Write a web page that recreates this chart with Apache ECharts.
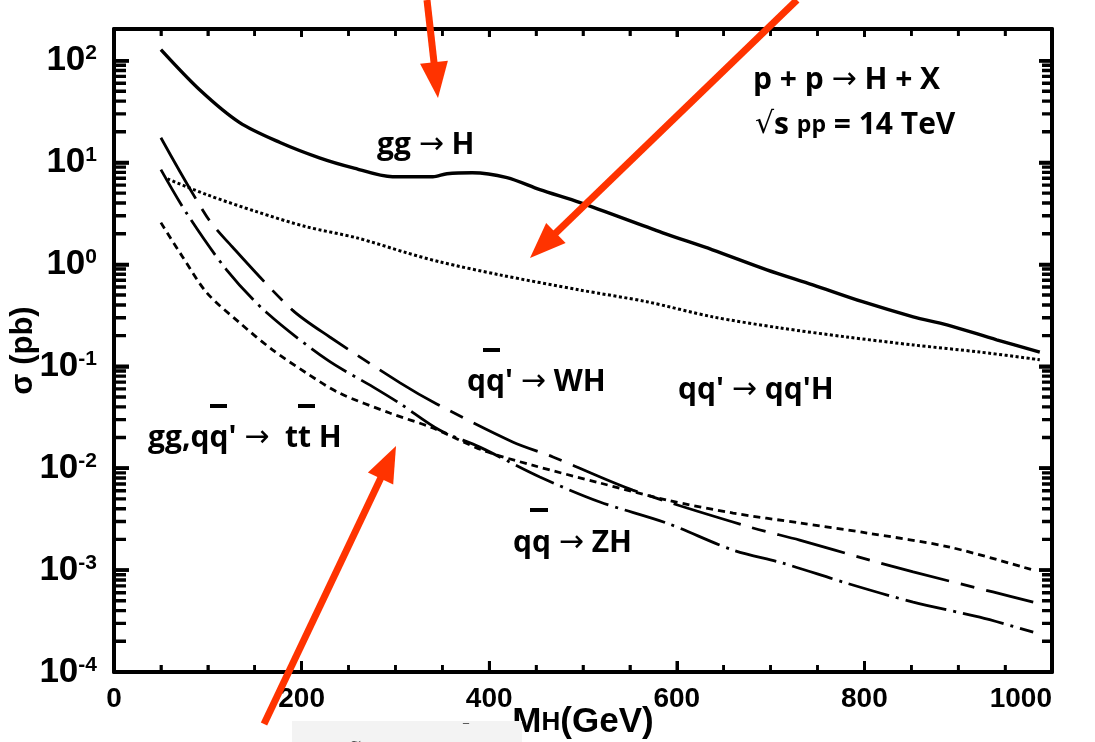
<!DOCTYPE html>
<html><head><meta charset="utf-8">
<script src="https://cdn.jsdelivr.net/npm/echarts@6/dist/echarts.min.js"></script>
<style>html,body{margin:0;padding:0;background:#fff}#c{width:1095px;height:742px}</style>
</head><body><div id="c"></div>
<script>
// ---- data ----
const ggH_mass = [50, 91, 134, 177, 219, 254, 297, 340, 355, 382, 419, 454, 497, 585, 638, 696, 745, 798, 852, 888, 941, 987];
const ggH_xsec = [128, 52, 24.6, 15.7, 11.1, 8.9, 7.25, 7.25, 7.76, 7.94, 7.1, 5.41, 4.03, 2.04, 1.39, 0.885, 0.63, 0.43, 0.306, 0.255, 0.182, 0.138];

const vbf_mass = [57, 99, 152, 205, 259, 312, 347, 411, 497, 568, 638, 710, 781, 852, 923, 987];
const vbf_xsec = [6.9, 4.83, 3.29, 2.34, 1.82, 1.30, 1.06, 0.79, 0.56, 0.43, 0.306, 0.238, 0.194, 0.162, 0.138, 0.116];

const wh_mass = [50, 99, 126, 190, 230, 305, 344, 425, 468, 553, 678, 731, 806, 852, 937, 980];
const wh_xsec = [17.5, 2.94, 1.49, 0.358, 0.194, 0.0688, 0.0427, 0.0181, 0.0129, 0.0061, 0.00264, 0.00197, 0.00125, 0.00096, 0.00061, 0.000485];

const zh_mass = [50, 77, 120, 163, 227, 276, 305, 347, 390, 454, 518, 589, 660, 713, 781, 852, 923, 980];
const zh_xsec = [8.5, 3.22, 0.885, 0.335, 0.116, 0.0628, 0.043, 0.0237, 0.0161, 0.0082, 0.00466, 0.0029, 0.00157, 0.00117, 0.000745, 0.000485, 0.000345, 0.000246];

const tth_mass = [50, 73, 99, 134, 169, 205, 240, 294, 340, 393, 446, 518, 589, 660, 731, 803, 891, 980];
const tth_xsec = [2.57, 1.19, 0.526, 0.267, 0.145, 0.0861, 0.0548, 0.0348, 0.0248, 0.0150, 0.0107, 0.00716, 0.00488, 0.00363, 0.0029, 0.00231, 0.00168, 0.001];

const xTickLabels = ['0', '200', '400', '600', '800', '1000'];
const xMajorStep = 200;
const xMinorStep = 50;
const yDecades = [-4, -3, -2, -1, 0, 1, 2];
const minorFactors = [2, 3, 4, 5, 6, 7, 8, 9];

// ---- chart ----
const AX = "'Liberation Sans', Arial, sans-serif";
const NARROW = "'Liberation Sans Narrow', 'Liberation Sans', sans-serif";
const ANN = "'Open Sans', 'Liberation Sans', sans-serif";
const ARR = "'DejaVu Sans', sans-serif";
const RED = '#ff3300';
const X_MIN = 0, X_MAX = 1000;
const yMin = Math.pow(10, yDecades[0]);
const yMax = Math.pow(10, 2.31);

function zip(a, b) { return a.map((x, i) => [x, b[i]]); }

const yMinorVals = [];
yDecades.slice(0, -1).forEach(e => minorFactors.forEach(k => yMinorVals.push(k * Math.pow(10, e))));
const yMajorVals = yDecades.map(e => Math.pow(10, e));
const xMinorVals = [], xMajorVals = [];
for (let x = X_MIN + xMinorStep; x < X_MAX; x += xMinorStep) (x % xMajorStep === 0 ? xMajorVals : xMinorVals).push(x);

const frameLine = { show: true, onZero: false, lineStyle: { color: '#000', width: 4 } };

const chart = echarts.init(document.getElementById('c'), null, { renderer: 'canvas' });

let gid = 0;
function withId(el) { el.id = 'g' + (gid++); return el; }

function arrow(x0, y0, x1, y1) {
  const dx = x1 - x0, dy = y1 - y0, L = Math.hypot(dx, dy);
  const ux = dx / L, uy = dy / L, hl = 36, hw = 14;
  const bx = x1 - ux * hl, by = y1 - uy * hl, px = -uy, py = ux;
  return [
    withId({ type: 'line', z: 100, shape: { x1: x0, y1: y0, x2: bx + ux * 3, y2: by + uy * 3 }, style: { stroke: RED, lineWidth: 7 } }),
    withId({ type: 'polygon', z: 100, shape: { points: [[x1, y1], [bx + px * hw, by + py * hw], [bx - px * hw, by - py * hw]] }, style: { fill: RED } })
  ];
}

function label(x, y, text, rich) {
  return withId({ type: 'text', z: 50, style: { x: x, y: y, text: text, rich: rich, verticalAlign: 'middle', align: 'left', fill: '#000' } });
}
const annRich = {
  b: { fontFamily: ANN, fontWeight: 'bold', fontSize: 30, color: '#000' },
  a: { fontFamily: ARR, fontWeight: 'normal', fontSize: 30, color: '#000' },
  s: { fontFamily: ANN, fontWeight: 'bold', fontSize: 23, color: '#000' },
  r: { fontFamily: ARR, fontWeight: 'normal', fontSize: 30, color: '#000' }
};
function bar(x, y, w) { return withId({ type: 'rect', z: 50, shape: { x: x, y: y, width: w, height: 4 }, style: { fill: '#000' } }); }

const graphics = [
  withId({ type: 'rect', z: 1, shape: { x: 292, y: 721, width: 230, height: 21 }, style: { fill: '#f3f3f3' } }),
  withId({ type: 'text', z: 2, style: { x: 350, y: 736, text: '~', font: '14px DejaVu Sans', fill: '#444' } }),
  withId({ type: 'text', z: 2, style: { x: 463, y: 724, text: '‾', font: '12px DejaVu Sans', fill: '#444' } }),
  label(377, 145, '{b|gg }{a|→}{b| H}', annRich),
  label(753, 80, '{b|p + p }{a|→}{b| H + X}', annRich),
  label(755, 125, '{r|√}{b|s }{s|pp}{b| = 14 TeV}', annRich),
  label(467, 382, "{b|qq' }{a|→}{b| WH}", annRich),
  bar(483, 348, 17),
  label(678, 390, "{b|qq' }{a|→}{b| qq'H}", annRich),
  label(148, 438, "{b|gg,qq' }{a|→}{b|  tt H}", annRich),
  bar(210, 404, 17), bar(298, 404, 17),
  label(513, 543, '{b|qq }{a|→}{b| ZH}', annRich),
  bar(530, 508, 18),
  ...arrow(427, 0, 438, 98),
  ...arrow(797, 0, 530, 258),
  ...arrow(264, 724, 396, 446)
];

const curveSeries = [
  { name: 'gg→H', type: 'line', data: zip(ggH_mass, ggH_xsec), symbol: 'none', smooth: 0.3,
    lineStyle: { color: '#000', width: 3.4 } },
  { name: "qq'→qq'H", type: 'line', data: zip(vbf_mass, vbf_xsec), symbol: 'none', smooth: 0.3,
    lineStyle: { color: '#000', width: 3, type: [3, 2.5] } },
  { name: "qq'→WH", type: 'line', data: zip(wh_mass, wh_xsec), symbol: 'none', smooth: 0.3,
    lineStyle: { color: '#000', width: 2.8, type: [70, 12, 14, 12] } },
  { name: 'qq→ZH', type: 'line', data: zip(zh_mass, zh_xsec), symbol: 'none', smooth: 0.3,
    lineStyle: { color: '#000', width: 2.8, type: [42, 7, 3, 7] } },
  { name: 'ttH', type: 'line', data: zip(tth_mass, tth_xsec), symbol: 'none', smooth: 0.3,
    lineStyle: { color: '#000', width: 2.8, type: [7, 5] } }
];

const option = {
  animation: false,
  backgroundColor: '#fff',
  grid: { left: 114, right: 43, top: 29, bottom: 70, containLabel: false, outerBoundsMode: 'none' },
  xAxis: [
    {
      type: 'value', min: X_MIN, max: X_MAX, interval: xMajorStep, position: 'bottom',
      axisLine: frameLine,
      axisTick: { show: true, inside: true, length: 11, lineStyle: { color: '#000', width: 3 } },
      minorTick: { show: true, splitNumber: 4, length: 7, lineStyle: { color: '#000', width: 2.5 } },
      splitLine: { show: false }, minorSplitLine: { show: false },
      axisLabel: { margin: 13, color: '#000', fontFamily: AX, fontWeight: 'bold', fontSize: 28,
        alignMaxLabel: 'right',
        formatter: v => xTickLabels[Math.round(v / xMajorStep)] },
      name: '{m|M}{h|H}{m|(GeV)}', nameLocation: 'middle', nameGap: 33, nameMoveOverlap: false,
      nameTextStyle: { rich: {
        m: { fontFamily: NARROW, fontWeight: 'bold', fontSize: 35, color: '#000' },
        h: { fontFamily: NARROW, fontWeight: 'bold', fontSize: 26, color: '#000' } } }
    },
    {
      type: 'value', min: X_MIN, max: X_MAX, interval: xMajorStep, position: 'top',
      axisLine: frameLine,
      axisTick: { show: true, inside: true, length: 8, lineStyle: { color: '#000', width: 3 } },
      minorTick: { show: true, splitNumber: 4, length: 7, lineStyle: { color: '#000', width: 2.5 } },
      splitLine: { show: false }, minorSplitLine: { show: false }, axisLabel: { show: false }
    }
  ],
  yAxis: [
    {
      type: 'log', logBase: 10, min: yMin, max: yMax, splitNumber: 7, position: 'left',
      axisLine: frameLine,
      axisTick: { show: true, inside: true, length: 15, lineStyle: { color: '#000', width: 3.5 } },
      splitLine: { show: false },
      axisLabel: {
        margin: 17,
        formatter: v => {
          const e = Math.log10(v);
          return Math.abs(e - Math.round(e)) < 1e-6 ? '{b|10}{s|' + Math.round(e) + '}' : '';
        },
        rich: {
          b: { fontFamily: AX, fontWeight: 'bold', fontSize: 35, color: '#000' },
          s: { fontFamily: AX, fontWeight: 'bold', fontSize: 21, color: '#000', verticalAlign: 'top' }
        }
      },
      name: 'σ (pb)', nameLocation: 'middle', nameRotate: 90, nameGap: 75, nameMoveOverlap: false,
      nameTextStyle: { fontFamily: AX, fontWeight: 'bold', fontSize: 31, color: '#000' }
    },
    {
      type: 'log', logBase: 10, min: yMin, max: yMax, splitNumber: 7, position: 'right',
      axisLine: frameLine,
      axisTick: { show: true, inside: true, length: 13, lineStyle: { color: '#000', width: 3.5 } },
      splitLine: { show: false }, axisLabel: { show: false }
    }
  ],
  series: curveSeries,
  graphic: graphics
};
chart.setOption(option);

// ---- frame tick marks, drawn as short line-series segments through the chart's own scales ----
const GAP = ['-', '-'];
const xl = chart.convertToPixel({ xAxisIndex: 0 }, X_MIN), xr = chart.convertToPixel({ xAxisIndex: 0 }, X_MAX);
const yb = chart.convertToPixel({ yAxisIndex: 0 }, yMin), yt = chart.convertToPixel({ yAxisIndex: 0 }, yMax);
const xAt = p => chart.convertFromPixel({ xAxisIndex: 0 }, p);
const yAt = p => chart.convertFromPixel({ yAxisIndex: 0 }, p);
const xL_min = xAt(xl + 12), xL_maj = xAt(xl + 15), xR_min = xAt(xr - 10), xR_maj = xAt(xr - 13);
const yB_min = yAt(yb - 7), yB_maj = yAt(yb - 11), yT_min = yAt(yt + 7), yT_maj = yAt(yt + 8);

const yTickData = [];
yMinorVals.forEach(v => { yTickData.push([X_MIN, v], [xL_min, v], GAP, [X_MAX, v], [xR_min, v], GAP); });
yMajorVals.forEach(v => { yTickData.push([X_MIN, v], [xL_maj, v], GAP, [X_MAX, v], [xR_maj, v], GAP); });
const xTickData = [];
xMinorVals.forEach(x => { xTickData.push([x, yMin], [x, yB_min], GAP, [x, yMax], [x, yT_min], GAP); });
xMajorVals.forEach(x => { xTickData.push([x, yMin], [x, yB_maj], GAP, [x, yMax], [x, yT_maj], GAP); });

function tickLineSeries(data, width) {
  return { type: 'line', silent: true, data: data, symbol: 'none', showSymbol: false, connectNulls: false,
    clip: false, z: 6, lineStyle: { color: '#000', width: width, cap: 'butt' }, emphasis: { disabled: true }, tooltip: { show: false } };
}
chart.setOption({
  series: curveSeries.concat([tickLineSeries(yTickData, 3.4), tickLineSeries(xTickData, 2.6)])
});
</script>
</body></html>
